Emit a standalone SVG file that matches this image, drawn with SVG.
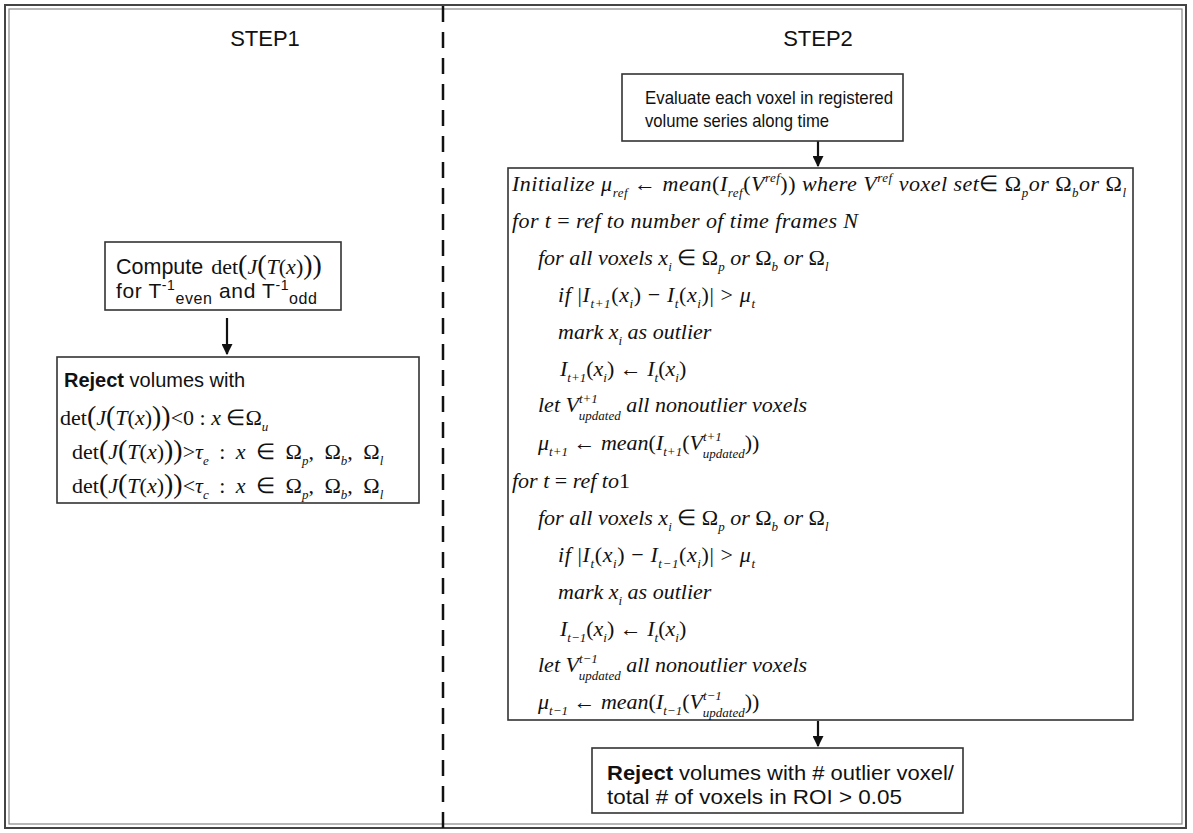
<svg xmlns="http://www.w3.org/2000/svg" width="1193" height="833" viewBox="0 0 1193 833">
<defs>
<style>
.bg{fill:#fff}
.box{fill:#fff;stroke:#333;stroke-width:1.6}
.sans{font-family:"Liberation Sans",Arial,sans-serif;fill:#111}
.head{font-size:22px;text-anchor:middle}
.t19{font-size:19px}
.t20{font-size:20px}
.t21{font-size:21px}
.m{font-family:"Liberation Serif","Times New Roman",serif;font-style:italic;font-size:22px;fill:#111}
.u{font-style:normal}
.sb{font-size:13px;baseline-shift:-6px}
.sp{font-size:13px;baseline-shift:9px}
.up{font-size:13px;baseline-shift:-8px}
.big{font-size:28px;font-style:normal}
.conn{stroke:#111;stroke-width:2.2;fill:none}
</style>
<marker id="ah" viewBox="0 0 10 10" refX="9" refY="5" markerWidth="5" markerHeight="5" orient="auto">
<path d="M0,0 L10,5 L0,10 Z" fill="#111"/>
</marker>
</defs>
<rect class="bg" x="0" y="0" width="1193" height="833"/>
<g id="frame">
<rect x="5" y="5" width="1181" height="823" fill="none" stroke="#444" stroke-width="2"/>
<rect x="9" y="9" width="1173" height="815" fill="none" stroke="#888" stroke-width="1.2"/>
<line x1="443" y1="6" x2="443" y2="828" stroke="#111" stroke-width="2.5" stroke-dasharray="16,10"/>
<text class="sans head" x="265" y="46">STEP1</text>
<text class="sans head" x="818" y="46">STEP2</text>
</g>
<g id="connectors">
<line class="conn" x1="227" y1="318" x2="227" y2="354" marker-end="url(#ah)"/>
<line class="conn" x1="818" y1="141" x2="818" y2="166" marker-end="url(#ah)"/>
<line class="conn" x1="818" y1="721" x2="818" y2="746" marker-end="url(#ah)"/>
</g>
<g id="compute">
<rect class="box" x="105" y="242" width="236" height="68"/>
<text class="sans" font-size="21.5" x="116" y="274">Compute <tspan class="m u" font-size="23" dx="2">det</tspan><tspan class="m big" font-size="31">(</tspan><tspan class="m" font-size="23">J</tspan><tspan class="m big" font-size="31">(</tspan><tspan class="m" font-size="23">T</tspan><tspan class="m u" font-size="23">(</tspan><tspan class="m" font-size="23">x</tspan><tspan class="m u" font-size="23">)</tspan><tspan class="m big" font-size="31">))</tspan></text>
<text class="sans t21" x="116" y="298" textLength="201" lengthAdjust="spacing">for T<tspan font-size="14" baseline-shift="8">-1</tspan><tspan font-size="16" baseline-shift="-6">even</tspan> and  T<tspan font-size="14" baseline-shift="8">-1</tspan><tspan font-size="16" baseline-shift="-6">odd</tspan></text>
</g>
<g id="reject1">
<rect class="box" x="57" y="357" width="362" height="146"/>
<text class="sans t20" x="64" y="387"><tspan font-weight="bold">Reject</tspan> volumes with</text>
<text class="m" x="60" y="425"><tspan class="u">det</tspan><tspan class="big">(</tspan>J<tspan class="big">(</tspan>T<tspan class="u">(</tspan>x<tspan class="u">)</tspan><tspan class="big">))</tspan><tspan class="u">&lt;0 : </tspan>x <tspan class="u">∈Ω</tspan><tspan class="sb">u</tspan></text>
<text class="m" x="72" y="459" word-spacing="5"><tspan class="u">det</tspan><tspan class="big">(</tspan>J<tspan class="big">(</tspan>T<tspan class="u">(</tspan>x<tspan class="u">)</tspan><tspan class="big">))</tspan><tspan class="u">&gt;</tspan>τ<tspan class="sb">e</tspan><tspan class="u"> : </tspan>x <tspan class="u">∈ Ω</tspan><tspan class="sb">p</tspan><tspan class="u">, Ω</tspan><tspan class="sb">b</tspan><tspan class="u">, Ω</tspan><tspan class="sb">l</tspan></text>
<text class="m" x="72" y="493" word-spacing="5"><tspan class="u">det</tspan><tspan class="big">(</tspan>J<tspan class="big">(</tspan>T<tspan class="u">(</tspan>x<tspan class="u">)</tspan><tspan class="big">))</tspan><tspan class="u">&lt;</tspan>τ<tspan class="sb">c</tspan><tspan class="u"> : </tspan>x <tspan class="u">∈ Ω</tspan><tspan class="sb">p</tspan><tspan class="u">, Ω</tspan><tspan class="sb">b</tspan><tspan class="u">, Ω</tspan><tspan class="sb">l</tspan></text>
</g>
<g id="evaluate">
<rect class="box" x="622" y="74" width="281" height="67"/>
<text class="sans t19" x="645" y="104" textLength="248" lengthAdjust="spacingAndGlyphs">Evaluate each voxel in registered</text>
<text class="sans t19" x="645" y="127" textLength="184" lengthAdjust="spacingAndGlyphs">volume series along time</text>
</g>
<g id="algorithm">
<rect class="box" x="508" y="168" width="625" height="552"/>
<text class="m" x="512" y="191" textLength="614" lengthAdjust="spacing">Initialize μ<tspan class="sb">ref</tspan> <tspan class="u">←</tspan> mean<tspan class="u">(</tspan>I<tspan class="sb">ref</tspan><tspan class="u">(</tspan>V<tspan class="sp">ref</tspan><tspan class="u">)) </tspan>where  V<tspan class="sp">ref</tspan>  voxel set<tspan class="u">∈ Ω</tspan><tspan class="sb">p</tspan>or <tspan class="u">Ω</tspan><tspan class="sb">b</tspan>or <tspan class="u">Ω</tspan><tspan class="sb">l</tspan></text>
<text class="m" x="512" y="228" textLength="346" lengthAdjust="spacing">for  t <tspan class="u">=</tspan> ref  to number of time frames N</text>
<text class="m" x="538" y="265">for all voxels  x<tspan class="sb">i</tspan> <tspan class="u">∈ Ω</tspan><tspan class="sb">p</tspan> or <tspan class="u">Ω</tspan><tspan class="sb">b</tspan> or <tspan class="u">Ω</tspan><tspan class="sb">l</tspan></text>
<text class="m" x="558" y="302" textLength="197" lengthAdjust="spacing">if  <tspan class="u">|</tspan>I<tspan class="sb">t+1</tspan><tspan class="u">(</tspan>x<tspan class="sb">i</tspan><tspan class="u">) − </tspan>I<tspan class="sb">t</tspan><tspan class="u">(</tspan>x<tspan class="sb">i</tspan><tspan class="u">)|  &gt; </tspan>μ<tspan class="sb">t</tspan></text>
<text class="m" x="558" y="339">mark x<tspan class="sb">i</tspan> as outlier</text>
<text class="m" x="560" y="376">I<tspan class="sb">t+1</tspan><tspan class="u">(</tspan>x<tspan class="sb">i</tspan><tspan class="u">) ← </tspan>I<tspan class="sb">t</tspan><tspan class="u">(</tspan>x<tspan class="sb">i</tspan><tspan class="u">)</tspan></text>
<text class="m" x="538" y="412">let V<tspan class="sp">t+1</tspan><tspan class="up" dx="-19">updated</tspan> all nonoutlier voxels</text>
<text class="m" x="538" y="450">μ<tspan class="sb">t+1</tspan> <tspan class="u">←</tspan> mean<tspan class="u">(</tspan>I<tspan class="sb">t+1</tspan><tspan class="u">(</tspan>V<tspan class="sp">t+1</tspan><tspan class="up" dx="-19">updated</tspan><tspan class="u">))</tspan></text>
<text class="m" x="512" y="488">for  t <tspan class="u">=</tspan> ref  to<tspan class="u">1</tspan></text>
<text class="m" x="538" y="525">for all voxels  x<tspan class="sb">i</tspan> <tspan class="u">∈ Ω</tspan><tspan class="sb">p</tspan> or <tspan class="u">Ω</tspan><tspan class="sb">b</tspan> or <tspan class="u">Ω</tspan><tspan class="sb">l</tspan></text>
<text class="m" x="558" y="562" textLength="197" lengthAdjust="spacing">if  <tspan class="u">|</tspan>I<tspan class="sb">t</tspan><tspan class="u">(</tspan>x<tspan class="sb">i</tspan><tspan class="u">) − </tspan>I<tspan class="sb">t−1</tspan><tspan class="u">(</tspan>x<tspan class="sb">i</tspan><tspan class="u">)|  &gt; </tspan>μ<tspan class="sb">t</tspan></text>
<text class="m" x="558" y="599">mark x<tspan class="sb">i</tspan> as outlier</text>
<text class="m" x="560" y="636">I<tspan class="sb">t−1</tspan><tspan class="u">(</tspan>x<tspan class="sb">i</tspan><tspan class="u">) ← </tspan>I<tspan class="sb">t</tspan><tspan class="u">(</tspan>x<tspan class="sb">i</tspan><tspan class="u">)</tspan></text>
<text class="m" x="538" y="672">let V<tspan class="sp">t−1</tspan><tspan class="up" dx="-19">updated</tspan> all nonoutlier voxels</text>
<text class="m" x="538" y="709">μ<tspan class="sb">t−1</tspan> <tspan class="u">←</tspan> mean<tspan class="u">(</tspan>I<tspan class="sb">t−1</tspan><tspan class="u">(</tspan>V<tspan class="sp">t−1</tspan><tspan class="up" dx="-19">updated</tspan><tspan class="u">))</tspan></text>
</g>
<g id="reject2">
<rect class="box" x="592" y="748" width="371" height="65"/>
<text class="sans t21" x="607" y="780" textLength="347" lengthAdjust="spacingAndGlyphs"><tspan font-weight="bold">Reject</tspan> volumes with # outlier voxel/</text>
<text class="sans t21" x="607" y="804" textLength="295" lengthAdjust="spacingAndGlyphs">total # of voxels in ROI &gt; 0.05</text>
</g>
</svg>
